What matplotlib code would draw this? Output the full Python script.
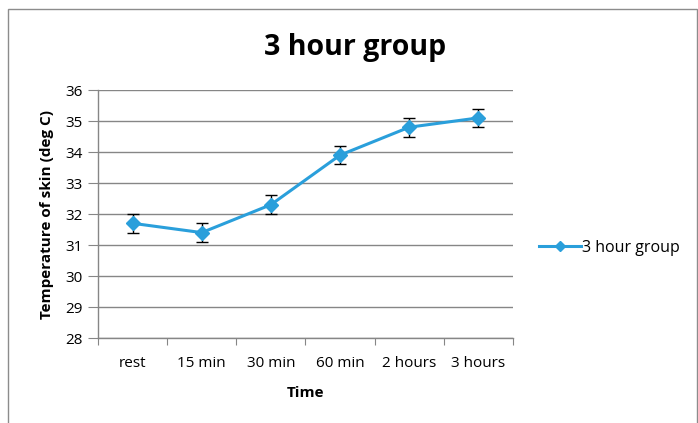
import matplotlib
matplotlib.use("Agg")
import matplotlib.pyplot as plt
from matplotlib.lines import Line2D
from matplotlib.patches import Rectangle

categories = ["rest", "15 min", "30 min", "60 min", "2 hours", "3 hours"]
values = [31.7, 31.4, 32.3, 33.9, 34.8, 35.1]
errors = [0.3, 0.3, 0.3, 0.3, 0.3, 0.3]
y_ticks = [28, 29, 30, 31, 32, 33, 34, 35, 36]
series_name = "3 hour group"

plt.rcParams['font.family'] = ['Open Sans', 'DejaVu Sans']

fig = plt.figure(figsize=(6.98, 4.23), dpi=100)
fig.patches.append(Rectangle((8/698, -0.1), (697-8)/698, 1.1 - 9/423, transform=fig.transFigure,
                             fill=False, edgecolor='#8c8c8c', linewidth=1.0))
ax = fig.add_axes([98/698, (423-338)/423, (513-98)/698, (338-90)/423])

x = list(range(len(categories)))
color = '#2A9FDB'
ax.errorbar(x, values, yerr=errors, color=color, linewidth=2.2, marker='D', markersize=7,
            ecolor='black', elinewidth=1.0, capsize=4.5, capthick=1.0, zorder=3)

ax.set_xlim(-0.5, len(categories) - 0.5)
ax.set_ylim(28, 36)
ax.set_yticks(y_ticks)
ax.set_yticklabels([str(v) for v in y_ticks], fontsize=11)
ax.set_xticks([i - 0.5 for i in range(len(categories) + 1)])
ax.set_xticklabels([])
ax.set_xticks(x, minor=True)
ax.set_xticklabels(categories, minor=True, fontsize=11)
ax.tick_params(axis='x', which='major', length=5, color='#868686', direction='out')
ax.tick_params(axis='x', which='minor', length=0, pad=13)
ax.tick_params(axis='y', length=7, color='#868686', direction='out', pad=4)

ax.grid(axis='y', color='#868686', linewidth=1.0)
ax.set_axisbelow(True)
for s in ['top', 'right']:
    ax.spines[s].set_visible(False)
for s in ['left', 'bottom']:
    ax.spines[s].set_color('#868686')
    ax.spines[s].set_linewidth(1.0)

ax.set_xlabel("Time", fontsize=11, fontweight='bold', labelpad=11)
ax.set_ylabel("Temperature of skin (deg C)", fontsize=11, fontweight='bold', labelpad=8)
fig.text(355/698, 1 - 47/423, "3 hour group", ha='center', va='center', fontsize=20.5, fontweight='bold')

handle = Line2D([], [], color=color, linewidth=2.2, marker='D', markersize=5)
fig.legend([handle], [series_name], loc='center left', bbox_to_anchor=(525/698, 1 - 248/423),
           frameon=False, fontsize=11.5, handlelength=2.6, handletextpad=0.1)

fig.savefig("out.png", dpi=100)
